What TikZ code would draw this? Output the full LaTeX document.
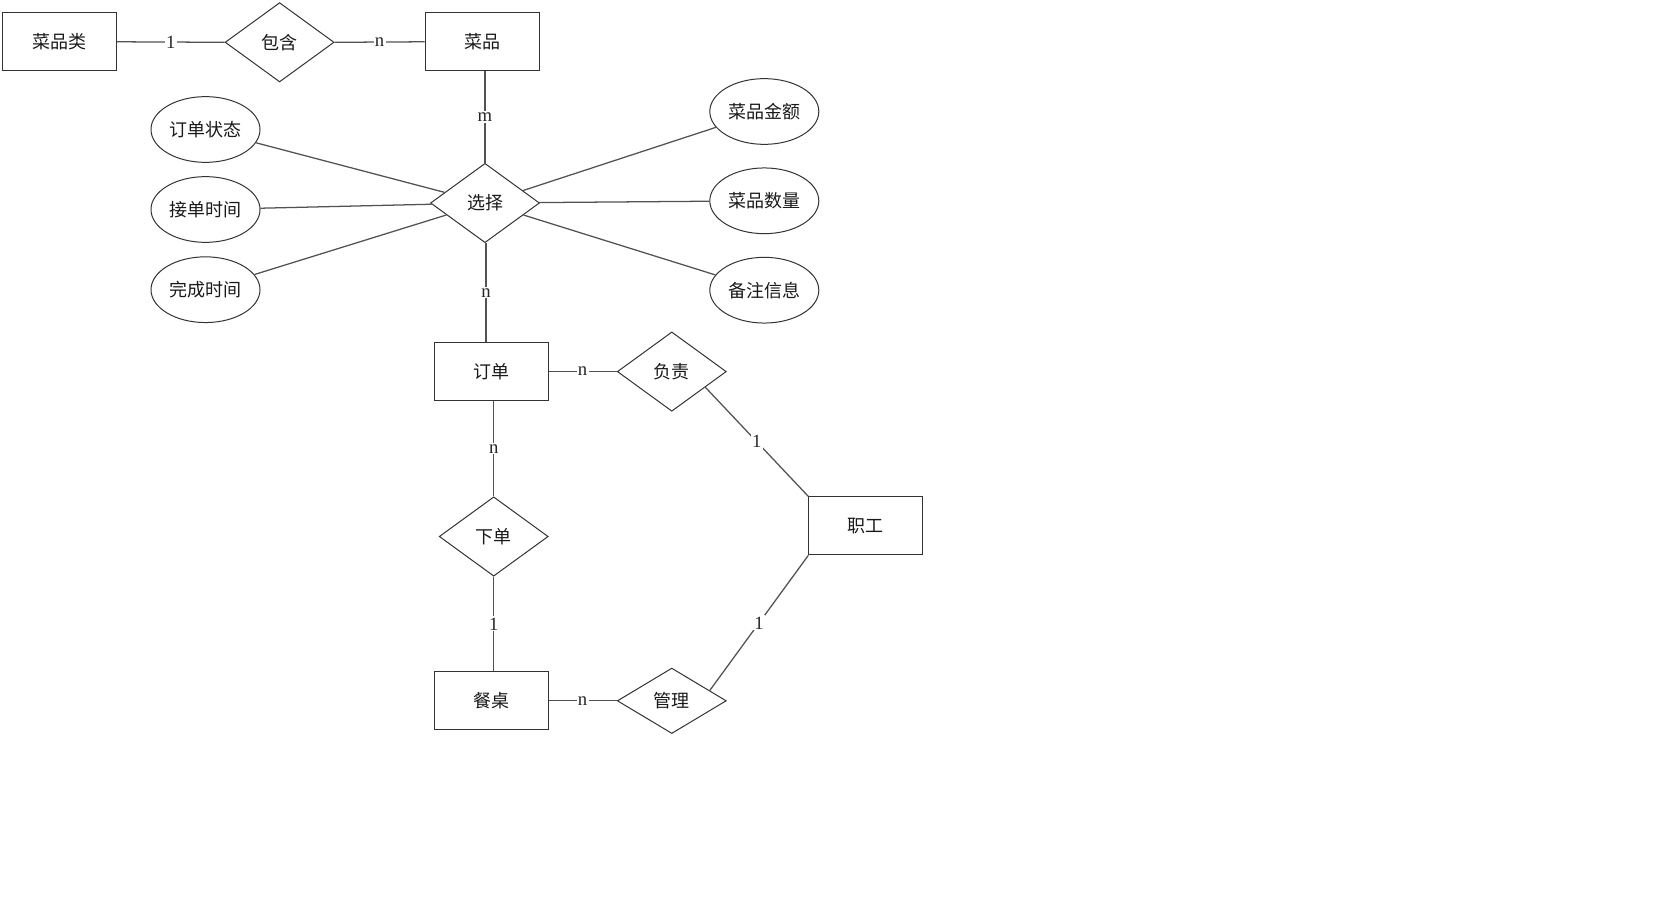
\documentclass[tikz,border=0pt]{standalone}
\usepackage{fontspec}
\setmainfont{Liberation Serif}
\newfontfamily\cjk{Noto Sans CJK SC}
\usetikzlibrary{shapes.geometric,calc}
\begin{document}
\begin{tikzpicture}[x=0.75pt,y=-0.75pt,
  line width=0.75pt,
  cjkfont/.style={font=\cjk\fontsize{13.5}{16}\selectfont, text=black!90},
  ent/.style={draw=black!80, rectangle, minimum width=85.5pt, minimum height=43.5pt, inner sep=0pt, cjkfont},
  rel/.style={draw=black!80, diamond, minimum width=81.75pt, minimum height=59.5pt, inner sep=0pt, cjkfont},
  attr/.style={draw=black!80, ellipse, minimum width=81.75pt, minimum height=49.3pt, inner sep=0pt, cjkfont},
  conn/.style={draw=black!68, line width=0.95pt},
  card/.style={fill=white, inner sep=1pt, font=\fontsize{14}{16}\selectfont, text=black!85}
]
\useasboundingbox (0,0) rectangle (1658,916);

% entities and relations
\node[ent] (cpl) at (59.7,41.8) {菜品类};
\node[rel] (bh) at (279.6,42.3) {包含};
\node[ent] (cp) at (482,41.8) {菜品};
\node[rel] (xz) at (485,203) {选择};
\node[ent] (dd) at (491,371.6) {订单};
\node[rel] (fz) at (671.8,371.6) {负责};
\node[ent] (zg) at (865.8,525.9) {职工};
\node[rel] (xd) at (493.7,536.5) {下单};
\node[ent] (cz) at (491,700.8) {餐桌};
\node[rel, minimum height=49.1pt] (gl) at (671.8,700.8) {管理};

% attributes
\node[attr] (ddzt) at (205.5,129.5) {订单状态};
\node[attr] (jdsj) at (205.5,209.5) {接单时间};
\node[attr] (wcsj) at (205.5,289.7) {完成时间};
\node[attr] (cpje) at (764.3,111.5) {菜品金额};
\node[attr] (cpsl) at (764.3,200.8) {菜品数量};
\node[attr] (bzxx) at (764.3,290.2) {备注信息};

% connectors
\draw[conn] (cpl.east) -- node[card]{1} (bh.west);
\draw[conn] (bh.east) -- node[card]{n} (cp.west);
\draw[conn] (xz.north |- cp.south) -- node[card]{m} (xz.north);
\draw[conn] ($(xz.south)+(1,0)$) -- node[card]{n} ($(xz.south |- dd.north)+(1,0)$);

\draw[conn] (ddzt) -- (xz);
\draw[conn] (jdsj) -- (xz);
\draw[conn] (wcsj) -- (xz);
\draw[conn] (cpje) -- (xz);
\draw[conn] (cpsl) -- (xz);
\draw[conn] (bzxx) -- (xz);

\draw[conn] (dd.east) -- node[card]{n} (fz.west);
\draw[conn] ($(fz.east)!0.39!(fz.south)$) -- node[card]{1} (zg.north west);
\draw[conn] (xd.north |- dd.south) -- node[card]{n} (xd.north);
\draw[conn] (xd.south) -- node[card]{1} (xd.south |- cz.north);
\draw[conn] (cz.east) -- node[card]{n} (gl.west);
\draw[conn] ($(gl.east)!0.31!(gl.north)$) -- node[card]{1} (zg.south west);
\end{tikzpicture}
\end{document}
